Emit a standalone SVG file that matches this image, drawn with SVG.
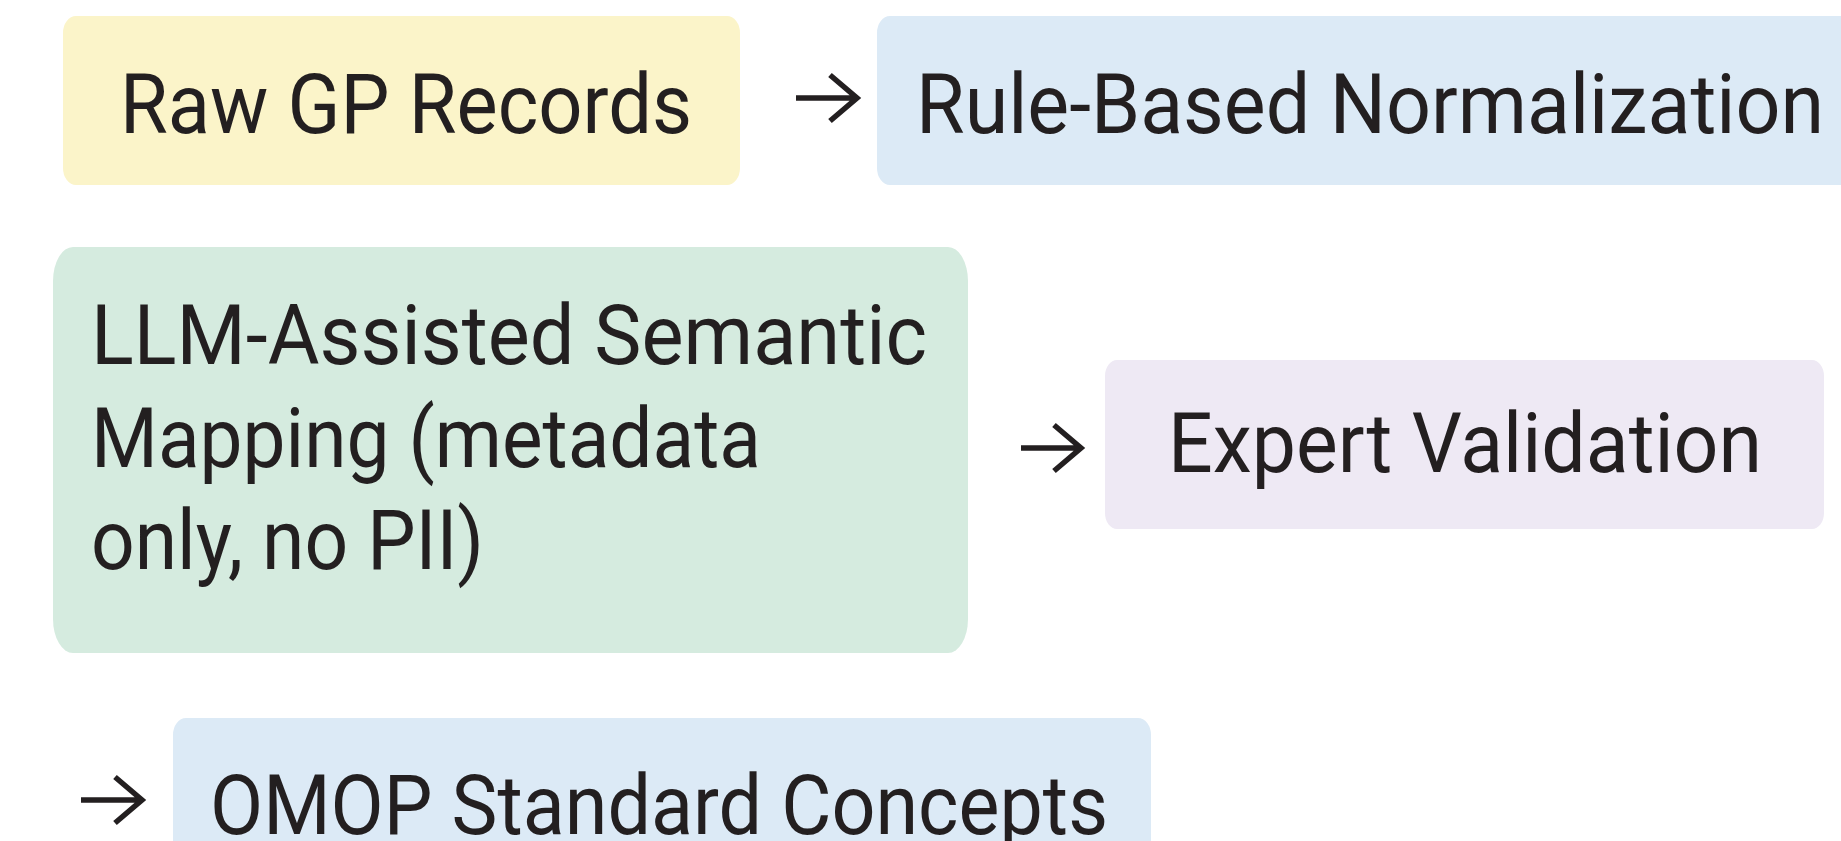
<svg xmlns="http://www.w3.org/2000/svg" width="1841" height="841" viewBox="0 0 1841 841">
  <style>
    .lbl { font-family: Roboto, "Liberation Sans", sans-serif; font-size: 83px; fill: #231F20; }
    .arrow { fill: none; stroke: #231F20; stroke-width: 5.5; stroke-linecap: butt; stroke-linejoin: miter; }
  </style>
  <rect width="1841" height="841" fill="#FFFFFF"/>
  <g id="node-raw">
    <rect x="63" y="16" width="677" height="169" rx="13" ry="17" fill="#FBF4C9"/>
    <text class="lbl" x="120" y="133" textLength="572" lengthAdjust="spacingAndGlyphs">Raw GP Records</text>
  </g>
  <g id="node-rule">
    <rect x="877" y="16" width="1000" height="169" rx="13" ry="17" fill="#DCEAF6"/>
    <text class="lbl" x="916" y="133" textLength="908" lengthAdjust="spacingAndGlyphs">Rule-Based Normalization</text>
  </g>
  <g id="node-llm">
    <rect x="53" y="247" width="915" height="406" rx="20" ry="34" fill="#D5EBDF"/>
    <text class="lbl" x="91" y="364" textLength="836" lengthAdjust="spacingAndGlyphs">LLM-Assisted Semantic</text>
    <text class="lbl" x="91" y="467" textLength="670" lengthAdjust="spacingAndGlyphs">Mapping (metadata</text>
    <text class="lbl" x="91" y="569" textLength="393" lengthAdjust="spacingAndGlyphs">only, no PII)</text>
  </g>
  <g id="node-expert">
    <rect x="1105" y="360" width="719" height="169" rx="12" ry="16" fill="#EEE9F4"/>
    <text class="lbl" x="1168" y="472" textLength="594" lengthAdjust="spacingAndGlyphs">Expert Validation</text>
  </g>
  <g id="node-omop">
    <rect x="173" y="718" width="978" height="200" rx="13" ry="17" fill="#DCEAF6"/>
    <text class="lbl" x="210" y="834" textLength="898" lengthAdjust="spacingAndGlyphs">OMOP Standard Concepts</text>
  </g>
  <g id="connectors">
    <path class="arrow" d="M796 98 H856 M830 75 L857 98 L830 121"/>
    <path class="arrow" d="M1021 448 H1080 M1054 425 L1081 448 L1054 471"/>
    <path class="arrow" d="M81 800 H141 M115 777 L142 800 L115 823"/>
  </g>
</svg>
